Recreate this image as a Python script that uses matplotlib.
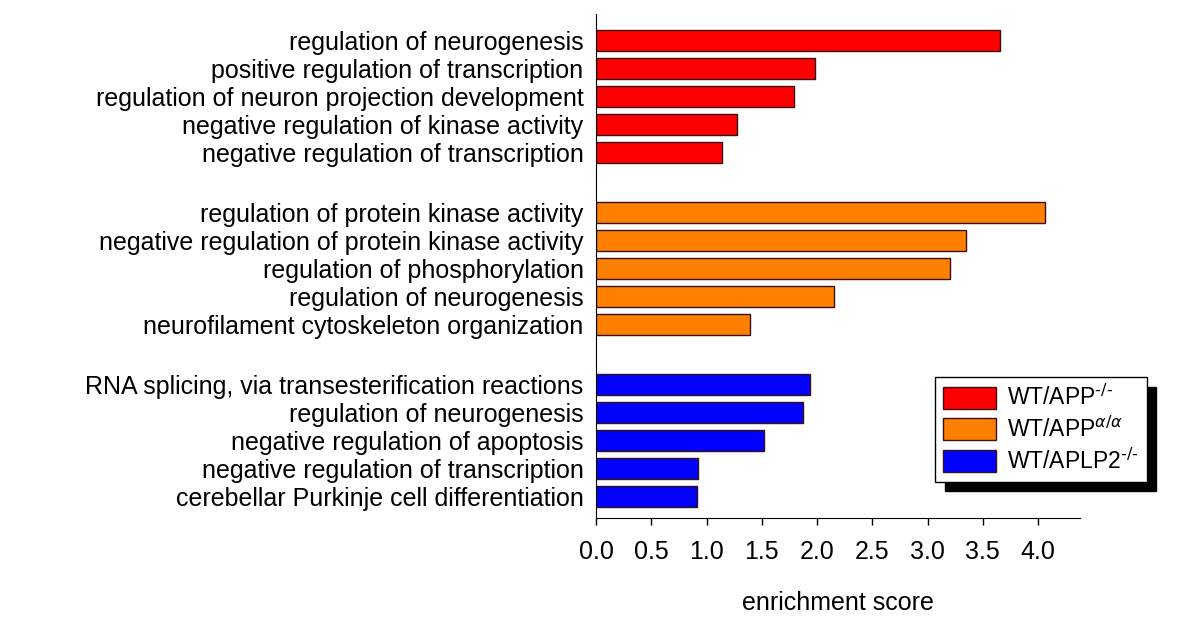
import numpy as np
from matplotlib import pyplot as plt

plt.rcParams['font.family'] = ['Liberation Sans', 'DejaVu Sans']

#---------------------------------------------------------------------------------------
# Data
#---------------------------------------------------------------------------------------

terms_app = ["regulation of neurogenesis",
             "positive regulation of transcription",
             "regulation of neuron projection development",
             "negative regulation of kinase activity",
             "negative regulation of transcription"]
score_app = [3.66, 1.98, 1.79, 1.28, 1.14]

terms_alpha = ["regulation of protein kinase activity",
               "negative regulation of protein kinase activity",
               "regulation of phosphorylation",
               "regulation of neurogenesis",
               "neurofilament cytoskeleton organization"]
score_alpha = [4.06, 3.35, 3.20, 2.15, 1.39]

terms_aplp2 = ["RNA splicing, via transesterification reactions",
               "regulation of neurogenesis",
               "negative regulation of apoptosis",
               "negative regulation of transcription",
               "cerebellar Purkinje cell differentiation"]
score_aplp2 = [1.94, 1.87, 1.52, 0.92, 0.91]

groups = [r"WT/APP$^{\text{-/-}}$", r"WT/APP$^{\alpha/\alpha}$", r"WT/APLP2$^{\text{-/-}}$"]
colors = ["#ff0000", "#ff8000", "#0000ff"]
xticks = [0.0, 0.5, 1.0, 1.5, 2.0, 2.5, 3.0, 3.5, 4.0]

#---------------------------------------------------------------------------------------
# Plot
#---------------------------------------------------------------------------------------

fig = plt.figure(figsize=(12, 6.37), dpi=100)
ax = fig.add_axes([0.4967, 0.1868, 0.4033, 0.7912])

gap = 6.14
pos = []
labels = []
for k, (t, s) in enumerate(zip([terms_app, terms_alpha, terms_aplp2],
                               [score_app, score_alpha, score_aplp2])):
    y = np.arange(len(t)) + k * gap
    ax.barh(y, s, height=0.75, color=colors[k], edgecolor="#3a1010",
            linewidth=1.0, label=groups[k])
    pos += list(y)
    labels += t

ax.set_yticks(pos)
ax.set_yticklabels(labels, fontsize=18)
ax.set_ylim(17.04, -0.96)
ax.set_xlim(0, 4.38)
ax.set_xticks(xticks)
ax.set_xticklabels(["%.1f" % v for v in xticks], fontsize=18)
ax.tick_params(axis='y', length=0, pad=9)
ax.tick_params(axis='x', direction='out', length=5, width=1, pad=11)
ax.spines['top'].set_visible(False)
ax.spines['right'].set_visible(False)
ax.set_xlabel("enrichment score", fontsize=18, labelpad=19)

leg = ax.legend(loc='upper left', bbox_to_anchor=(0.779, 0.408),
                bbox_transform=fig.transFigure, borderaxespad=0,
                fontsize=16.5, frameon=True, fancybox=False, edgecolor='black',
                framealpha=1, handlelength=2.3, handleheight=1.1,
                labelspacing=0.28, handletextpad=0.5, borderpad=0.35,
                shadow={'ox': 7, 'oy': -7, 'color': 'black', 'alpha': 1})
leg.get_frame().set_linewidth(1.0)

fig.savefig("out.png", dpi=100)
